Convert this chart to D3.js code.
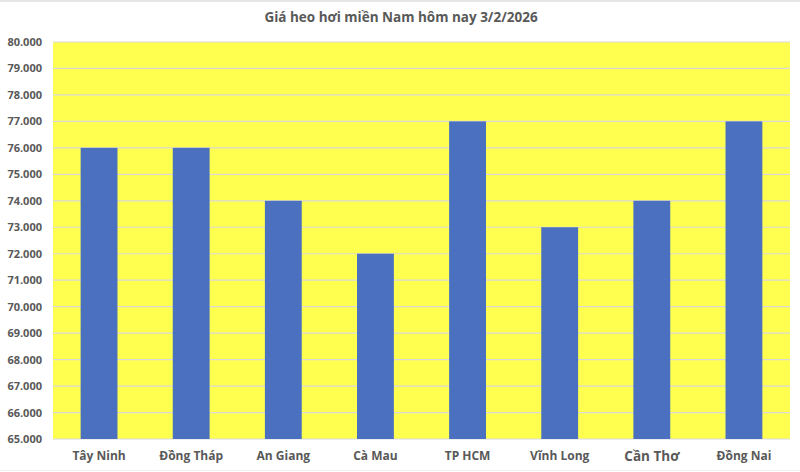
<!DOCTYPE html>
<html><head><meta charset="utf-8">
<script src="https://cdn.jsdelivr.net/npm/d3@7"></script>
<style>
html,body{margin:0;padding:0;background:#fff;}
svg{display:block;font-family:"Open Sans",Lato,sans-serif;}
</style></head>
<body>
<svg id="chart" width="800" height="472"></svg>
<script>
const title = "Giá heo hơi miền Nam hôm nay 3/2/2026";
const categories = ["Tây Ninh","Đồng Tháp","An Giang","Cà Mau","TP HCM","Vĩnh Long","Cần Thơ","Đồng Nai"];
const values = [76000,76000,74000,72000,77000,73000,74000,77000];
const yTicks = [65000,66000,67000,68000,69000,70000,71000,72000,73000,74000,75000,76000,77000,78000,79000,80000];

const svg = d3.select("#chart");
const m = {left:53, right:10, top:42, bottom:33};
const W = 800, H = 472;
const x = d3.scaleBand().domain(categories).range([m.left, W - m.right]).paddingInner(0.6).paddingOuter(0.3);
const y = d3.scaleLinear().domain([65000,80000]).range([H - m.bottom, m.top]);

// faint outer frame lines (spreadsheet edges)
svg.append("line").attr("x1",0).attr("x2",W).attr("y1",1).attr("y2",1).attr("stroke","#E6E6E6").attr("stroke-width",2);
svg.append("line").attr("x1",0).attr("x2",W).attr("y1",H-1.5).attr("y2",H-1.5).attr("stroke","#EEEEEE").attr("stroke-width",1);

// plot area
svg.append("rect").attr("x", m.left).attr("y", m.top)
  .attr("width", W - m.right - m.left).attr("height", H - m.bottom - m.top)
  .attr("fill", "#FFFF50");

// gridlines
svg.append("g").selectAll("line").data(yTicks).join("line")
  .attr("x1", m.left).attr("x2", W - m.right)
  .attr("y1", d => y(d)).attr("y2", d => y(d))
  .attr("stroke", "#D9D9D9").attr("stroke-width", 1.2);

// bars
svg.append("g").selectAll("rect").data(values).join("rect")
  .attr("x", (d,i) => x(categories[i]))
  .attr("width", x.bandwidth())
  .attr("y", d => y(d))
  .attr("height", d => y(65000) - y(d))
  .attr("fill", "#4A70BF");

// y axis
const fmt = d => d3.format(",.0f")(d).replace(/,/g, ".");
const ya = svg.append("g").attr("transform", `translate(${m.left},0)`)
  .call(d3.axisLeft(y).tickValues(yTicks).tickFormat(fmt).tickSize(0).tickPadding(11));
ya.select(".domain").remove();
ya.selectAll("text").attr("fill", "#595959").attr("font-size", 11).attr("font-weight", "bold")
  .attr("font-family", "\"Open Sans\",sans-serif");

// x axis
const xa = svg.append("g").attr("transform", `translate(0,${H - m.bottom})`)
  .call(d3.axisBottom(x).tickSize(0).tickPadding(12));
xa.select(".domain").remove();
xa.selectAll("text").attr("fill", "#595959").attr("font-size", d => d === "Cần Thơ" ? 13.5 : 12)
  .attr("font-weight", "bold").attr("font-family", "\"Open Sans\",sans-serif");

// title
svg.append("text").attr("x", 401).attr("y", 22).attr("text-anchor", "middle")
  .attr("fill", "#595959").attr("font-size", 13.5).attr("font-weight", "bold")
  .text(title);
</script>
</body></html>
